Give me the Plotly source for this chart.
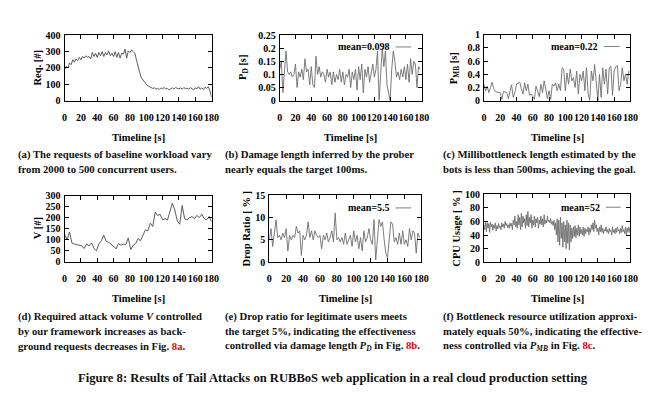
import plotly.graph_objects as go

W, H = 656, 394
FONT = "Liberation Serif"

# ---------------- data ----------------
t2 = list(range(0, 181, 2))
req = [190,210,200,230,220,250,235,255,245,265,250,270,260,275,265,270,255,295,270,290,
       265,295,275,300,270,295,280,305,275,290,270,300,265,295,260,290,285,315,260,305,
       295,310,300,290,250,200,170,140,125,110,100,90,85,80,75,78,70,75,68,78,
       72,80,70,75,65,72,78,70,80,75,72,78,70,80,72,76,70,80,72,65,
       78,72,85,70,78,68,82,75,85,60,20]

t_pd = list(range(0, 179, 2))
pd_vals = [0.12,0.15,0.03,0.12,0.19,0.11,0.10,0.11,0.09,0.10,0.14,0.05,0.11,0.09,0.12,0.08,0.16,0.11,0.12,0.06,
           0.13,0.06,0.05,0.17,0.10,0.13,0.09,0.11,0.10,0.07,0.12,0.09,0.11,0.06,0.11,0.07,0.10,0.08,0.12,0.07,
           0.11,0.06,0.10,0.09,0.12,0.05,0.11,0.08,0.12,0.04,0.13,0.08,0.14,0.03,0.12,0.09,0.13,0.07,0.11,0.14,
           0.09,0.12,0.19,0.00,0.10,0.20,0.13,0.19,0.06,0.03,0.00,0.12,0.19,0.15,0.09,0.11,0.08,0.12,0.09,0.13,
           0.08,0.14,0.07,0.16,0.10,0.15,0.14,0.05,0.13,0.12]

pmb_vals = [0.25,0.15,0.22,0.12,0.20,0.28,0.18,0.14,0.13,0.13,0.12,0.02,0.14,0.13,0.12,0.03,0.15,0.24,0.05,0.12,
            0.25,0.27,0.28,0.18,0.10,0.27,0.15,0.25,0.08,0.10,0.05,0.02,0.22,0.13,0.06,0.25,0.12,0.30,0.16,0.03,
            0.15,0.02,0.25,0.22,0.27,0.15,0.25,0.15,0.50,0.48,0.15,0.42,0.25,0.48,0.30,0.35,0.20,0.45,0.10,0.40,
            0.30,0.45,0.15,0.50,0.10,0.00,0.45,0.30,0.55,0.20,0.00,0.40,0.05,0.50,0.25,0.48,0.10,0.50,0.52,0.08,
            0.45,0.52,0.53,0.15,0.25,0.50,0.30,0.40,0.25,0.45]

t3 = list(range(0, 181, 3))
vol = [125,100,135,85,80,78,75,72,60,80,72,85,60,50,80,95,120,92,88,80,
       70,58,82,75,80,78,108,55,75,82,105,95,120,145,140,175,160,225,210,215,
       190,195,190,230,265,235,185,170,255,195,190,200,205,195,210,200,215,195,190,205,
       180]

drop = [5,7.5,3.5,6,9.5,5.5,6,5,6.5,5.5,7.5,2.5,6,5,6,5.5,8,6.5,7,1.5,
        6,5,6,9,5.5,7,5,7,6,5.5,6,3,6,5,6.5,4.5,5.5,7,4.5,11,
        5,5.5,4.5,5.5,4,6.5,4,5,6,3.5,7,4.5,6,3,5.5,2.5,7,4.5,5.5,7.5,
        5,4,9.5,0.5,5.5,9.5,8,9,5,2,1,5,9,8.5,4.5,5.5,4,6.5,4,7,
        4,5,3.5,7.5,5,7,6.5,2,6.5,5.5]

t1 = list(range(0, 181))
cpu = [55,48,60,45,58,50,57,44,59,52, 56,47,55,50,58,46,54,49,57,51,
       53,48,58,52,56,50,60,54,57,51, 55,50,58,53,57,48,62,55,68,52,
       60,50,70,55,66,48,72,52,68,58, 64,50,70,54,75,52,66,58,70,50,
       62,55,68,52,64,58,66,50,62,56, 68,55,64,52,70,56,62,58,68,60,
       62,58,64,56,60,54,62,48,58,40, 64,30,62,25,66,35,58,22,60,30,
       55,20,62,28,58,18,55,30,50,35, 52,38,54,36,50,40,55,38,52,42,
       48,40,52,38,50,42,48,45,52,40, 50,44,55,48,58,45,62,50,55,45,
       50,40,52,45,55,44,50,42,48,46, 52,44,48,42,50,45,47,40,52,44,
       48,42,50,44,52,46,48,42,50,44, 54,45,48,42,52,40,50,44,52,45,
       42]

x_ticks = [0, 20, 40, 60, 80, 100, 120, 140, 160, 180]

# ---------------- panels (pixel boxes: left, right, top, bottom) ----------------
panels = [
    dict(x=t2, y=req, color="#4a4a4a", box=(54.5, 204, 22, 89.3), yr=[0, 400], dt=100,
         ytitle="Req. [#]", ytx=27, mean=None),
    dict(x=t_pd, y=pd_vals, color="#6e6e6e", box=(273.3, 417.7, 22, 89.3), yr=[0, 0.25], dt=0.05,
         ytitle="P<sub>D</sub> [s]", ytx=237, mean=("mean=0.098", 387, 391, 407, 34)),
    dict(x=t_pd, y=pmb_vals, color="#6e6e6e", box=(481, 630, 21.5, 89.3), yr=[0, 1], dt=0.2,
         ytitle="P<sub>MB</sub> [s]", ytx=451, mean=("mean=0.22", 599, 603, 619, 33.5)),
    dict(x=t3, y=vol, color="#4a4a4a", box=(54.5, 204, 187.3, 255.5), yr=[0, 300], dt=50,
         ytitle="V [#]", ytx=27, mean=None),
    dict(x=t_pd, y=drop, color="#6e6e6e", box=(262.7, 417.3, 186.7, 256), yr=[0, 15], dt=5,
         ytitle="Drop Ratio [ % ]", ytx=240, mean=("mean=5.5", 387, 391, 407, 200)),
    dict(x=t1, y=cpu, color="#6e6e6e", box=(481, 630, 186, 256), yr=[0, 100], dt=20,
         ytitle="CPU Usage [ % ]", ytx=453, mean=("mean=52", 601, 605, 620, 199.3)),
]

fig = go.Figure()
annotations = []
shapes = []

def px(x):
    return x / W

def py(y):
    return 1 - y / H

for i, p in enumerate(panels):
    n = "" if i == 0 else str(i + 1)
    l, r, t, b = p["box"]
    fig.add_trace(go.Scatter(x=p["x"], y=p["y"], mode="lines",
                             line=dict(color=p["color"], width=0.9),
                             xaxis="x" + n, yaxis="y" + n, showlegend=False,
                             hoverinfo="skip"))
    axcommon = dict(showline=True, linecolor="black", linewidth=1, mirror="allticks",
                    ticks="inside", ticklen=4, tickcolor="black", tickwidth=1,
                    showgrid=False, zeroline=False, tickangle=0,
                    tickfont=dict(family=FONT, size=10, color="black", weight="bold"))
    fig.update_layout(**{
        "xaxis" + n: dict(domain=[px(l), px(r)], range=[0, 180], tickvals=x_ticks,
                          anchor="y" + n, ticklabelstandoff=7, **axcommon),
        "yaxis" + n: dict(domain=[py(b), py(t)], range=p["yr"], dtick=p["dt"], tick0=0,
                          anchor="x" + n, ticklabelstandoff=1, **axcommon),
    })
    # x title
    annotations.append(dict(x=px((l + r) / 2), y=py(b + 38 if i < 3 else b + 37.5),
                            xref="paper", yref="paper", text="<b>Timeline [s]</b>",
                            showarrow=False, xanchor="center", yanchor="middle",
                            font=dict(family=FONT, size=10.5, color="black")))
    # y title
    annotations.append(dict(x=px(p["ytx"]), y=py((t + b) / 2), xref="paper", yref="paper",
                            text="<b>" + p["ytitle"] + "</b>", textangle=-90,
                            showarrow=False, xanchor="center", yanchor="middle",
                            font=dict(family=FONT, size=10.5, color="black")))
    if p["mean"]:
        txt, tx, x0, x1, yy = p["mean"]
        annotations.append(dict(x=px(tx), y=py(yy), xref="paper", yref="paper",
                                text="<b>" + txt + "</b>", showarrow=False,
                                xanchor="right", yanchor="middle",
                                font=dict(family=FONT, size=10, color="black")))
        shapes.append(dict(type="line", xref="paper", yref="paper",
                           x0=px(x0), x1=px(x1), y0=py(yy), y1=py(yy),
                           line=dict(color=p["color"], width=0.9)))

RED = "#e8000b"
captions = [
    (5, 145, ["(a) The requests of baseline workload vary",
              "from 2000 to 500 concurrent users."]),
    (216, 145, ["(b) Damage length inferred by the prober",
                "nearly equals the target 100ms."]),
    (437, 145, ["(c) Millibottleneck length estimated by the",
                "bots is less than 500ms, achieving the goal."]),
    (5, 312, ["(d) Required attack volume <i>V</i> controlled",
              "by our framework increases as back-",
              "ground requests decreases in Fig. <span style='color:%s'>8a</span>." % RED]),
    (216, 312, ["(e) Drop ratio for legitimate users meets",
                "the target 5%, indicating the effectiveness",
                "controlled via damage length <i>P</i><sub><i>D</i></sub> in Fig. <span style='color:%s'>8b</span>." % RED]),
    (437, 312, ["(f) Bottleneck resource utilization approxi-",
                "mately equals 50%, indicating the effective-",
                "ness controlled via <i>P</i><sub><i>MB</i></sub> in Fig. <span style='color:%s'>8c</span>." % RED]),
]
for x0, y0, lines in captions:
    for k, line in enumerate(lines):
        annotations.append(dict(x=px(x0), y=py(y0 + 15 * k), xref="paper", yref="paper",
                                text="<b>" + line + "</b>", showarrow=False,
                                xanchor="left", yanchor="middle",
                                font=dict(family=FONT, size=10.7, color="#111111")))

annotations.append(dict(x=px(327), y=py(375), xref="paper", yref="paper",
                        text="<b>Figure 8: Results of Tail Attacks on RUBBoS web application in a real cloud production setting</b>",
                        showarrow=False, xanchor="center", yanchor="middle",
                        font=dict(family=FONT, size=12.6, color="#111111")))

fig.update_layout(width=W, height=H, margin=dict(l=0, r=0, t=0, b=0),
                  paper_bgcolor="white", plot_bgcolor="white",
                  annotations=annotations, shapes=shapes)

fig.write_html("out.html")
